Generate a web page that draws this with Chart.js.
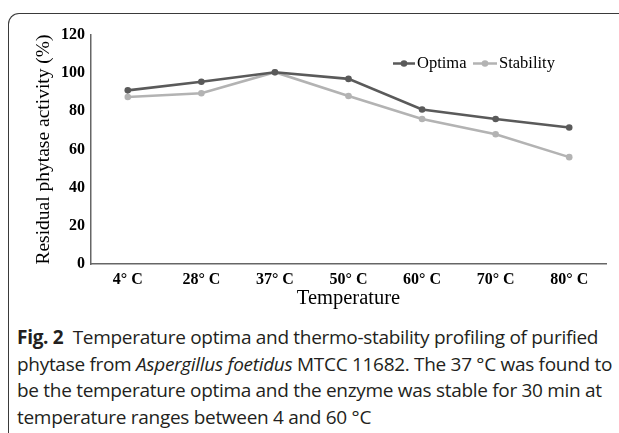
<!DOCTYPE html>
<html>
<head>
<meta charset="utf-8">
<script src="https://cdn.jsdelivr.net/npm/chart.js@4"></script>
<style>
  html, body { margin: 0; padding: 0; background: #fff; }
  body { width: 619px; height: 433px; position: relative; overflow: hidden; }
  .frame {
    position: absolute; left: 8px; top: 13px; width: 640px; height: 460px;
    border-left: 1.3px solid #3a3a3a; border-top: 1.3px solid #3a3a3a;
    border-top-left-radius: 11px; box-sizing: border-box;
  }
  .plot { position: absolute; left: 0; top: 0; width: 619px; height: 320px; }
  .caption {
    position: absolute; left: 17px; top: 324px; width: 610px;
    font-family: "Open Sans", sans-serif; font-size: 19px; line-height: 26.5px;
    color: #231f20; white-space: nowrap; letter-spacing: -0.3px;
  }
  .caption b { font-weight: 700; }
</style>
</head>
<body>
<div class="frame"></div>
<div class="plot"><canvas id="chart" width="619" height="320"></canvas></div>
<div class="caption">
  <b>Fig. 2</b>&nbsp; Temperature optima and thermo-stability profiling of purified<br>
  phytase from <i>Aspergillus foetidus</i> MTCC 11682. The 37 °C was found to<br>
  be the temperature optima and the enzyme was stable for 30 min at<br>
  temperature ranges between 4 and 60 °C
</div>
<script>
// ---- data -----------------------------------------------------------------
const temperatures = ['4° C', '28° C', '37° C', '50° C', '60° C', '70° C', '80° C'];
const optima = [91, 95.5, 100.5, 97, 81, 76, 71.5];
const stability = [87.5, 89.5, 100.5, 88, 76, 68, 56];
const yTicks = [0, 20, 40, 60, 80, 100, 120];

const SERIF = "'Liberation Serif', 'Times New Roman', serif";
const OPTIMA_COLOR = '#5a5a5a';
const STABILITY_COLOR = '#b3b3b3';

// Legend drawn as "line-with-dot" markers, like the original spreadsheet chart.
const inlineLegend = {
  id: 'inlineLegend',
  afterDraw(chart) {
    const { ctx } = chart;
    const y = 63.5;
    const slots = [{ x: 393, w: 22 }, { x: 473, w: 24 }];
    ctx.save();
    chart.data.datasets.forEach((ds, i) => {
      const s = slots[i];
      ctx.strokeStyle = ds.borderColor;
      ctx.lineWidth = 2.5;
      ctx.beginPath();
      ctx.moveTo(s.x, y);
      ctx.lineTo(s.x + s.w, y);
      ctx.stroke();
      ctx.fillStyle = ds.borderColor;
      ctx.beginPath();
      ctx.arc(s.x + s.w / 2, y, 3.3, 0, Math.PI * 2);
      ctx.fill();
      ctx.fillStyle = '#000';
      ctx.font = `16.5px ${SERIF}`;
      ctx.textBaseline = 'middle';
      ctx.textAlign = 'left';
      ctx.fillText(ds.label, s.x + s.w + 2, y + 0.5);
    });
    ctx.restore();
  }
};

new Chart(document.getElementById('chart'), {
  type: 'line',
  data: {
    labels: temperatures,
    datasets: [
      {
        label: 'Optima',
        data: optima,
        borderColor: OPTIMA_COLOR,
        backgroundColor: OPTIMA_COLOR,
        borderWidth: 2.6,
        pointRadius: 3.3,
        pointBorderWidth: 0,
        tension: 0
      },
      {
        label: 'Stability',
        data: stability,
        borderColor: STABILITY_COLOR,
        backgroundColor: STABILITY_COLOR,
        borderWidth: 2.6,
        pointRadius: 3.3,
        pointBorderWidth: 0,
        tension: 0
      }
    ]
  },
  options: {
    responsive: false,
    animation: false,
    layout: { padding: { top: 35, right: 13, left: 0, bottom: 0 } },
    plugins: { legend: { display: false }, tooltip: { enabled: false } },
    scales: {
      x: {
        offset: true,
        grid: { display: false, drawTicks: false },
        border: { display: true, color: '#666', width: 1.5 },
        ticks: {
          color: '#000',
          padding: 6,
          maxRotation: 0,
          font: { family: SERIF, size: 16, weight: 'bold' }
        },
        title: {
          display: true,
          text: 'Temperature',
          color: '#000',
          font: { family: SERIF, size: 20.5 },
          padding: { top: 0, bottom: 9 }
        },
        afterFit: (scale) => { scale.height = 56; }
      },
      y: {
        min: 0,
        max: 120,
        afterBuildTicks: (scale) => { scale.ticks = yTicks.map((v) => ({ value: v })); },
        grid: { display: false, drawTicks: false },
        border: { display: true, color: '#666', width: 1.5 },
        ticks: {
          color: '#000',
          padding: 6,
          font: { family: SERIF, size: 16, weight: 'bold' }
        },
        title: {
          display: true,
          text: 'Residual phytase activity (%)',
          color: '#000',
          font: { family: SERIF, size: 19.5 },
          padding: { top: 32, bottom: 0 }
        },
        afterFit: (scale) => { scale.width = 91; }
      }
    }
  },
  plugins: [inlineLegend]
});
</script>
</body>
</html>
